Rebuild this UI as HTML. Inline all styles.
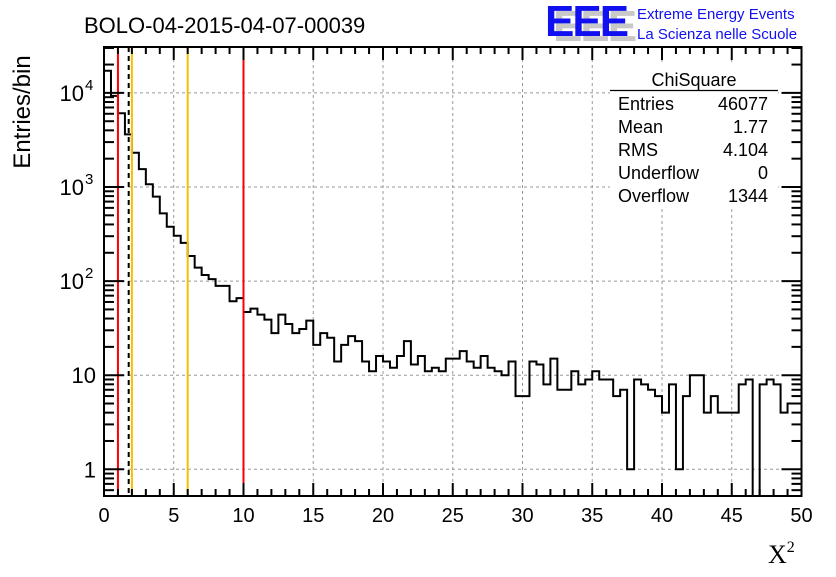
<!DOCTYPE html>
<html><head><meta charset="utf-8"><style>
body{margin:0;background:#fff;}
svg text{font-family:"Liberation Sans",sans-serif;}
</style></head><body>
<svg id="chart" width="836" height="572" xmlns="http://www.w3.org/2000/svg">
<defs><clipPath id="clip"><rect x="104" y="47" width="698" height="449"/></clipPath></defs>
<rect width="836" height="572" fill="#fff"/>
<g id="grid"></g>
<g id="hist" clip-path="url(#clip)"></g>
<g id="vlines"></g>
<g id="axes"></g>
<g>
<rect x="610" y="62" width="168" height="146" fill="#fff"/>
<text x="694" y="86" font-size="18" text-anchor="middle">ChiSquare</text>
<line x1="610" y1="90.5" x2="778" y2="90.5" stroke="#000" stroke-width="1.2"/>
<g font-size="18">
<text x="618" y="110">Entries</text><text x="768" y="110" text-anchor="end">46077</text>
<text x="618" y="133">Mean</text><text x="768" y="133" text-anchor="end">1.77</text>
<text x="618" y="156">RMS</text><text x="768" y="156" text-anchor="end">4.104</text>
<text x="618" y="179">Underflow</text><text x="768" y="179" text-anchor="end">0</text>
<text x="618" y="202">Overflow</text><text x="768" y="202" text-anchor="end">1344</text>
</g></g>
<text x="84" y="33" font-size="22">BOLO-04-2015-04-07-00039</text>
<g>
<text x="553" y="41" font-size="44" font-weight="bold" fill="#c8c8c8" letter-spacing="-2">EEE</text>
<text x="545" y="36" font-size="44" font-weight="bold" fill="#1010f0" letter-spacing="-2">EEE</text>
<text x="637" y="19" font-size="15" fill="#1010f0">Extreme Energy Events</text>
<text x="637" y="39" font-size="15" fill="#1010f0">La Scienza nelle Scuole</text>
</g>
<text transform="translate(30,112) rotate(-90)" font-size="24" text-anchor="middle">Entries/bin</text>
<text x="768" y="563" font-size="26" style="font-family:'Liberation Serif',serif">X<tspan font-size="16" dy="-11">2</tspan></text>
</svg>
<script>
const counts=[17200,9300,6070,3630,2310,1550,1070,789,525,378,303,255,185,139,116,105,89,89,61,66,47,51,44,39,28,44,35,28,31,38,21,28,25,14,21,26,23,14,11,16,14,12,16,23,13,16,11,12,11,15,15,18,14,12,16,12,11,10,14,6,6,14,13,8,15,7,7,11,8,9,11,9,9,6,7,1,9,8,7,6,4,8,1,6,10,10,4,6,4,4,4,8,9,0,8,9,8,4,5,5];
const xTicks=[0,5,10,15,20,25,30,35,40,45,50];
const yTicks=[1,10,100,1000,10000];
const yTickBase=["1","10","10","10","10"];
const yTickExp=["","","2","3","4"];
const cutLines=[{x:1,c:"#f00",d:""},{x:1.77,c:"#000",d:"5,4"},{x:2,c:"#f5c000",d:""},{x:6,c:"#f5c000",d:""},{x:10,c:"#f00",d:""}];
const binWidth=0.5;
const X0=104,X1=801.5,Y0=496,Y1=47;
const xs=v=>X0+(v/50)*(X1-X0);
const ys=v=>v<=0?Y0+20:469.3-94.1*Math.log10(v);
const NS="http://www.w3.org/2000/svg";
function mk(p,t,a){const e=document.createElementNS(NS,t);for(const k in a)e.setAttribute(k,a[k]);p.appendChild(e);return e;}
const grid=document.getElementById('grid'),axes=document.getElementById('axes');
xTicks.slice(1,-1).forEach(v=>{const l=mk(grid,'line',{x1:xs(v),x2:xs(v),y1:Y1,y2:Y0,stroke:'#999','stroke-dasharray':'3,3'});

});
yTicks.forEach(v=>{const l=mk(grid,'line',{x1:X0,x2:X1,y1:ys(v),y2:ys(v),stroke:'#999','stroke-dasharray':'3,3'});

});
let d="M"+X0+","+Y0;
counts.forEach((c,i)=>{const y=ys(c);d+=" L"+xs(i*binWidth)+","+y+" L"+xs((i+1)*binWidth)+","+y;});
d+=" L"+X1+","+Y0;
const p=mk(document.getElementById('hist'),'path',{d:d,fill:'none',stroke:'#000','stroke-width':2});


cutLines.forEach(c=>{const l=mk(document.getElementById('vlines'),'line',{x1:xs(c.x),x2:xs(c.x),y1:Y1,y2:Y0,stroke:c.c,'stroke-width':2,'stroke-dasharray':c.d});

});
const fr=mk(axes,'rect',{x:X0,y:Y1,width:X1-X0,height:Y0-Y1,fill:'none',stroke:'#000','stroke-width':2});


for(let v=0;v<=50;v++){const L=v%5==0?13:7;
mk(axes,'line',{x1:xs(v),x2:xs(v),y1:Y0,y2:Y0-L,stroke:'#000','stroke-width':2});
mk(axes,'line',{x1:xs(v),x2:xs(v),y1:Y1,y2:Y1+L,stroke:'#000','stroke-width':2});}
xTicks.forEach(v=>{const t=mk(axes,'text',{x:xs(v),y:522,'font-size':20,'text-anchor':'middle'});t.textContent=v;

});
for(let e=-1;e<=4;e++)for(let m=1;m<10;m++){const v=m*Math.pow(10,e);const y=ys(v);if(y<Y1||y>Y0)continue;const L=m==1?20:10;
mk(axes,'line',{x1:X0,x2:X0+L,y1:y,y2:y,stroke:'#000','stroke-width':2});
mk(axes,'line',{x1:X1,x2:X1-L,y1:y,y2:y,stroke:'#000','stroke-width':2});}
yTicks.forEach((v,i)=>{const hasExp=yTickExp[i]!=="";
const t=mk(axes,'text',{x:hasExp?84:96,y:ys(v)+8,'font-size':22,'text-anchor':'end'});t.textContent=yTickBase[i];


if(hasExp){const s=mk(axes,'text',{x:85,y:ys(v)-3,'font-size':15});s.textContent=yTickExp[i];

}});
</script>
</body></html>
